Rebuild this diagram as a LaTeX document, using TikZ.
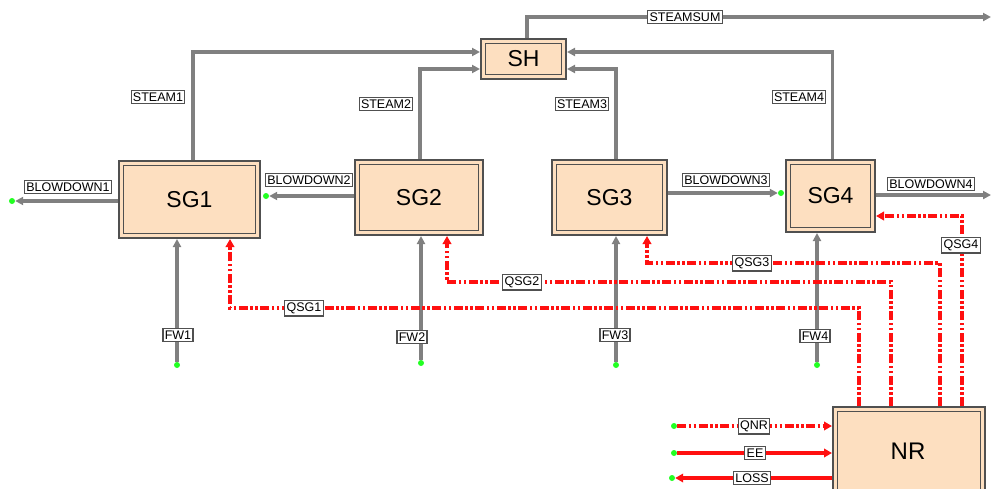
\documentclass[tikz,border=0pt]{standalone}
\usepackage{fontspec}
\setmainfont{Liberation Sans}
\usetikzlibrary{arrows.meta,calc}
\definecolor{peach}{HTML}{FDDFC0}
\definecolor{bord}{HTML}{505050}
\definecolor{pipe}{HTML}{808080}
\definecolor{heat}{HTML}{FF1010}
\definecolor{gdot}{HTML}{22FF22}
\newcommand\innerbox[1]{\draw[bord, line width=1.6pt] ([shift={(5.5,5.5)}]#1.north west) rectangle ([shift={(-5.5,-5.5)}]#1.south east);}
\tikzset{
  unit/.style={draw=bord, line width=2pt, fill=peach, inner sep=0pt, font=\fontsize{23}{26}\selectfont},
  tag/.style={draw=bord, line width=1.1pt, fill=white, inner xsep=1.8pt, inner ysep=2.4pt, font=\fontsize{12.5}{14}\selectfont},
  pipeline/.style={draw=pipe, line width=3.2pt, -{Triangle[length=8pt,width=8pt]}},
  heatline/.style={draw=heat, line width=3.6pt, dash pattern=on 9pt off 2.5pt on 2.5pt off 2.5pt on 2.5pt off 2.5pt, -{Triangle[length=8pt,width=8.5pt]}},
  heatsolid/.style={draw=heat, line width=3.6pt, -{Triangle[length=8pt,width=8.5pt]}},
  greendot/.style={circle, fill=gdot, inner sep=0pt, minimum size=6pt},
}
\begin{document}
\begin{tikzpicture}[x=1pt, y=-1pt]
\useasboundingbox (0,0) rectangle (992,488);
\clip (0,0) rectangle (992,488);
% units
\node[unit, minimum width=85pt, minimum height=40pt] (SH) at (523.5,59) {SH};
\node[unit, minimum width=141pt, minimum height=77pt] (SG1) at (189.5,199.5) {SG1};
\node[unit, minimum width=128pt, minimum height=75pt] (SG2) at (419,197.5) {SG2};
\node[unit, minimum width=115pt, minimum height=75pt] (SG3) at (609.5,197.5) {SG3};
\node[unit, minimum width=89pt, minimum height=72pt] (SG4) at (830.5,196) {SG4};
\node[unit, minimum width=152pt, minimum height=96pt, text depth=0pt] (NR) at (909,455) {};
\node[font=\fontsize{24}{26}\selectfont] (NRt) at (908,451) {NR};
\innerbox{SH}\innerbox{SG1}\innerbox{SG2}\innerbox{SG3}\innerbox{SG4}\innerbox{NR}
% free ends
\node[greendot] (fw1) at (177,365) {};
\node[greendot] (fw2) at (421,363) {};
\node[greendot] (fw3) at (616,365) {};
\node[greendot] (fw4) at (817,365) {};
\node[greendot] (bd1) at (12,201) {};
\node[greendot] (bd2) at (266,196) {};
\node[greendot] (bd3) at (781,193) {};
\coordinate (bd4) at (991,195);
\coordinate (ssum) at (991,17);
\node[greendot] (qnr) at (674,426) {};
\node[greendot] (ee) at (674,453) {};
\node[greendot] (loss) at (672,478) {};
% steam
\draw[pipeline] ([xshift=3.5pt]SG1.north) |- ([shift={(0,-7)}]SH.west);
\draw[pipeline] ([xshift=1pt]SG2.north) |- ([shift={(0,10)}]SH.west);
\draw[pipeline] ([xshift=6.5pt]SG3.north) |- ([shift={(0,10)}]SH.east);
\draw[pipeline] ([xshift=2pt]SG4.north) |- ([shift={(0,-7)}]SH.east);
\draw[pipeline] ([xshift=3.5pt]SH.north) |- (ssum);
% blowdown
\draw[pipeline] ([yshift=-1.5pt]SG1.west) -- (bd1);
\draw[pipeline] ([yshift=1.5pt]SG2.west) -- (bd2);
\draw[pipeline] ([yshift=4.5pt]SG3.east) -- (bd3);
\draw[pipeline] ([yshift=1pt]SG4.east) -- (bd4);
% feedwater
\draw[pipeline] (fw1) -- (fw1 |- SG1.south);
\draw[pipeline] (fw2) -- (fw2 |- SG2.south);
\draw[pipeline] (fw3) -- (fw3 |- SG3.south);
\draw[pipeline] (fw4) -- (fw4 |- SG4.south);
% heat
\draw[heatline] ([xshift=-50pt]NR.north) |- (230,308) -- ([xshift=40.5pt]SG1.south);
\draw[heatline] ([xshift=-18pt]NR.north) |- (447,282) -- ([xshift=28pt]SG2.south);
\draw[heatline] ([xshift=31pt]NR.north) |- (647,263) -- ([xshift=37.5pt]SG3.south);
\draw[heatline] ([xshift=53pt]NR.north) |- ([yshift=-20pt]SG4.east);
\draw[heatline] (qnr) -- (qnr -| NR.west);
\draw[heatsolid] (ee) -- (ee -| NR.west);
\draw[heatsolid] (loss -| NR.west) -- (loss);
% tags
\node[tag] (tSS) at (685,17) {STEAMSUM};
\node[tag] (tS1) at (158,97) {STEAM1};
\node[tag] (tS2) at (386,104) {STEAM2};
\node[tag] (tS3) at (582,104) {STEAM3};
\node[tag] (tS4) at (799,97) {STEAM4};
\node[tag] (tB1) at (68,187) {BLOWDOWN1};
\node[tag] (tB2) at (309,180) {BLOWDOWN2};
\node[tag] (tB3) at (726,180) {BLOWDOWN3};
\node[tag] (tB4) at (931,184) {BLOWDOWN4};
\node[tag] (tF1) at (178,335) {FW1};
\node[tag] (tF2) at (412,337) {FW2};
\node[tag] (tF3) at (615,335) {FW3};
\node[tag] (tF4) at (815,336) {FW4};
\node[tag] (tQ1) at (304,308) {QSG1};
\node[tag] (tQ2) at (522,282) {QSG2};
\node[tag] (tQ3) at (752,263) {QSG3};
\node[tag] (tQ4) at (961,245) {QSG4};
\node[tag] (tQN) at (754,426) {QNR};
\node[tag] (tEE) at (755,453) {EE};
\node[tag] (tLO) at (752,478) {LOSS};
\end{tikzpicture}
\end{document}
